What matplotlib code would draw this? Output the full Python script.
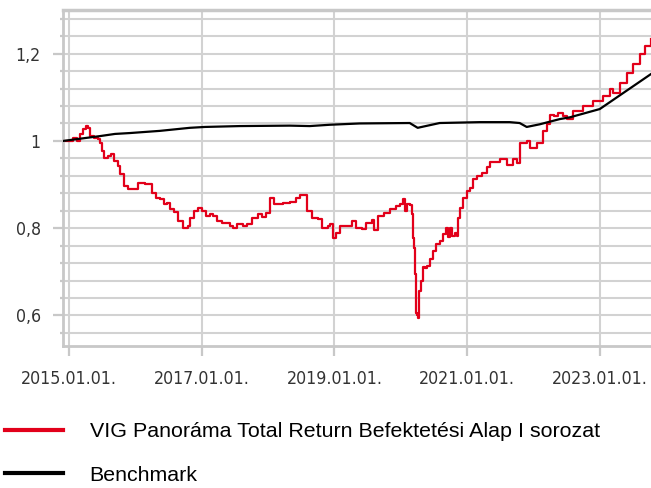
import matplotlib
matplotlib.use("Agg")
import matplotlib.pyplot as plt
from matplotlib.lines import Line2D
from matplotlib.ticker import MultipleLocator, FuncFormatter
from matplotlib.font_manager import FontProperties
import pandas as pd

# fund
fund_dates = [
    "2014-12-15", "2015-01-23", "2015-02-14", "2015-03-02", "2015-03-18", "2015-04-04",
    "2015-04-15", "2015-04-26", "2015-05-18", "2015-06-09", "2015-06-20", "2015-07-01",
    "2015-07-12", "2015-08-03", "2015-08-20", "2015-09-05", "2015-09-27", "2015-10-08",
    "2015-10-30", "2015-11-21", "2015-12-24", "2016-01-15", "2016-02-06", "2016-02-23",
    "2016-03-21", "2016-04-01", "2016-04-23", "2016-05-15", "2016-06-06", "2016-06-23",
    "2016-07-09", "2016-07-31", "2016-08-22", "2016-09-19", "2016-10-16", "2016-10-27",
    "2016-11-18", "2016-12-10", "2017-01-01", "2017-01-23", "2017-02-14", "2017-03-03",
    "2017-03-25", "2017-04-21", "2017-06-04", "2017-06-21", "2017-07-13", "2017-08-15",
    "2017-09-06", "2017-10-03", "2017-11-05", "2017-11-27", "2017-12-19", "2018-01-10",
    "2018-02-01", "2018-03-23", "2018-04-30", "2018-06-02", "2018-06-24", "2018-07-22",
    "2018-08-02", "2018-08-29", "2018-10-01", "2018-10-23", "2018-11-25", "2018-12-06",
    "2018-12-23", "2019-01-08", "2019-01-30", "2019-02-27", "2019-04-06", "2019-04-28",
    "2019-05-31", "2019-06-22", "2019-07-25", "2019-08-05", "2019-08-27", "2019-09-29",
    "2019-11-01", "2019-12-04", "2019-12-26", "2020-01-11", "2020-01-22", "2020-02-02",
    "2020-02-19", "2020-03-01", "2020-03-06", "2020-03-12", "2020-03-17", "2020-03-23",
    "2020-03-28", "2020-04-03", "2020-04-08", "2020-04-19", "2020-04-30", "2020-05-11",
    "2020-05-22", "2020-06-08", "2020-06-24", "2020-07-11", "2020-08-02", "2020-08-19",
    "2020-09-04", "2020-09-15", "2020-09-26", "2020-10-07", "2020-10-24", "2020-11-04",
    "2020-11-10", "2020-11-21", "2020-12-07", "2020-12-29", "2021-01-14", "2021-01-31",
    "2021-02-22", "2021-03-21", "2021-04-18", "2021-05-04", "2021-06-28", "2021-08-06",
    "2021-09-08", "2021-09-30", "2021-10-16", "2021-11-24", "2021-12-10", "2022-01-18",
    "2022-02-20", "2022-03-14", "2022-03-31", "2022-04-22", "2022-05-14", "2022-06-11",
    "2022-07-03", "2022-08-05", "2022-09-29", "2022-11-23", "2023-01-17", "2023-02-24",
    "2023-03-13", "2023-04-20", "2023-05-29", "2023-07-01", "2023-08-08", "2023-09-05",
    "2023-10-08",
]
fund_values = [
    1.000, 1.007, 1.000, 1.016, 1.027, 1.034,
    1.030, 1.011, 1.007, 1.005, 0.995, 0.977,
    0.961, 0.965, 0.970, 0.954, 0.943, 0.924,
    0.897, 0.890, 0.890, 0.904, 0.904, 0.901,
    0.902, 0.880, 0.870, 0.868, 0.856, 0.858,
    0.844, 0.836, 0.817, 0.800, 0.805, 0.824,
    0.840, 0.847, 0.840, 0.828, 0.833, 0.828,
    0.817, 0.812, 0.805, 0.800, 0.810, 0.806,
    0.810, 0.824, 0.833, 0.826, 0.835, 0.870,
    0.856, 0.857, 0.859, 0.870, 0.877, 0.876,
    0.840, 0.824, 0.821, 0.800, 0.805, 0.810,
    0.778, 0.790, 0.805, 0.806, 0.817, 0.800,
    0.797, 0.812, 0.818, 0.795, 0.828, 0.835,
    0.844, 0.851, 0.856, 0.867, 0.840, 0.856,
    0.852, 0.833, 0.778, 0.755, 0.696, 0.606,
    0.600, 0.595, 0.657, 0.680, 0.710, 0.708,
    0.714, 0.730, 0.748, 0.764, 0.771, 0.787,
    0.800, 0.780, 0.800, 0.783, 0.790, 0.783,
    0.824, 0.847, 0.870, 0.886, 0.893, 0.913,
    0.920, 0.927, 0.940, 0.952, 0.959, 0.945,
    0.959, 0.950, 0.995, 1.000, 0.984, 0.995,
    1.023, 1.039, 1.060, 1.058, 1.064, 1.057,
    1.050, 1.069, 1.080, 1.092, 1.103, 1.119,
    1.110, 1.133, 1.156, 1.176, 1.200, 1.217,
    1.233,
]

bench_dates = [
    "2014-12-01", "2015-06-20", "2015-09-11", "2015-12-02", "2016-05-15", "2016-10-27",
    "2017-01-18", "2017-07-29", "2018-04-30", "2018-08-18", "2018-12-06", "2019-05-20",
    "2020-02-19", "2020-04-03", "2020-06-08", "2020-08-02", "2021-03-10", "2021-08-22",
    "2021-10-16", "2021-11-24", "2022-02-03", "2022-05-25", "2022-07-19", "2022-12-31",
    "2023-10-08",
]
bench_values = [
    1.000, 1.011, 1.016, 1.018, 1.023, 1.030,
    1.032, 1.034, 1.035, 1.034, 1.037, 1.040,
    1.041, 1.030, 1.036, 1.041, 1.043, 1.043,
    1.041, 1.032, 1.038, 1.050, 1.054, 1.073,
    1.153,
]

tick_dates = ["2015-01-01", "2017-01-01", "2019-01-01", "2021-01-01", "2023-01-01"]
tick_labels = ["2015.01.01.", "2017.01.01.", "2019.01.01.", "2021.01.01.", "2023.01.01."]

fund_label = "VIG Panoráma Total Return Befektetési Alap I sorozat"
bench_label = "Benchmark"

grid_c = "#d2d2d2"
tick_font = FontProperties(family="DejaVu Sans", stretch="condensed", size=12.7)

fig = plt.figure(figsize=(6.51, 4.88), dpi=100)
ax = fig.add_axes([63 / 651, 1 - 346 / 488, 1 - 63 / 651, 336 / 488])

ax.plot(pd.to_datetime(fund_dates), fund_values, color="#e2001a", lw=1.6,
        drawstyle="steps-post", zorder=3)
ax.plot(pd.to_datetime(bench_dates), bench_values, color="black", lw=1.6, zorder=4)

ax.set_xlim(pd.Timestamp("2014-11-29"), pd.Timestamp("2023-10-09"))
ax.set_ylim(0.53, 1.30)

ax.set_xticks(pd.to_datetime(tick_dates))
ax.set_xticklabels(tick_labels)
ax.yaxis.set_major_locator(MultipleLocator(0.2))
ax.yaxis.set_minor_locator(MultipleLocator(0.04))
ax.yaxis.set_major_formatter(FuncFormatter(lambda v, p: f"{v:g}".replace(".", ",")))

ax.grid(axis="y", which="both", color=grid_c, lw=1.5, zorder=1)
ax.grid(axis="x", which="major", color=grid_c, lw=1.5, zorder=1)
ax.set_axisbelow(True)

for s in ["left", "bottom", "top"]:
    ax.spines[s].set_color("#c8c8c8")
    ax.spines[s].set_linewidth(2)
ax.spines["top"].set_linewidth(2.5)
ax.spines["right"].set_visible(False)

ax.tick_params(axis="x", which="major", length=7, width=1.6, color="#c8c8c8",
               pad=10, labelcolor="#333333")
ax.tick_params(axis="y", which="major", length=7, width=1.6, color="#c8c8c8",
               pad=9, labelcolor="#333333")
ax.tick_params(axis="y", which="minor", length=2, width=1.6, color="#c8c8c8")
for lab in ax.get_xticklabels() + ax.get_yticklabels():
    lab.set_fontproperties(tick_font)

handles = [Line2D([], [], color="#e2001a", lw=3), Line2D([], [], color="black", lw=3)]
fig.legend(handles, [fund_label, bench_label], loc="upper left",
           bbox_to_anchor=(5 / 651, 1 - 422 / 488), frameon=False,
           prop=FontProperties(family="Liberation Sans", size=15.4),
           handlelength=2.7, handletextpad=1.26, labelspacing=1.15,
           borderpad=0, borderaxespad=0)

fig.savefig("out.png", dpi=100)
